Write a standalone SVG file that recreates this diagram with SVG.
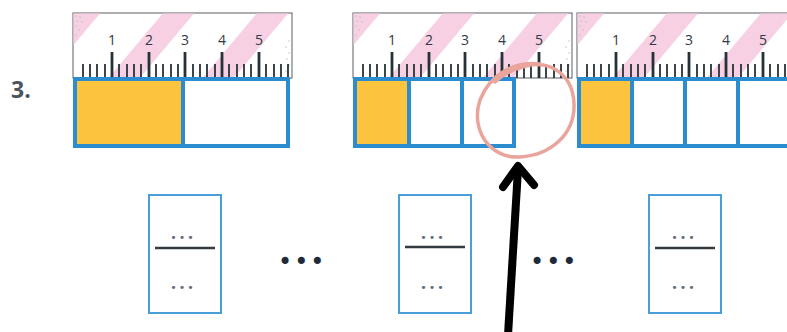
<svg xmlns="http://www.w3.org/2000/svg" width="787" height="332" viewBox="0 0 787 332">
<defs>
  <pattern id="stripes" patternUnits="userSpaceOnUse" width="72" height="10" patternTransform="rotate(40)">
    <rect x="0" y="0" width="21" height="10" fill="#f8d0e3"/>
    <rect x="69" y="0" width="3" height="10" fill="#f8d0e3"/>
  </pattern>
  <g id="ticks">
    <g stroke="#26323a" stroke-width="1.8">
      <path d="M10 51V65M17 51V65M24 51V65M32 51V65M46 51V65M54 51V65M61 51V65M68 51V65M83 51V65M90 51V65M98 51V65M105 51V65M120 51V65M127 51V65M134 51V65M142 51V65M156 51V65M164 51V65M171 51V65M178 51V65M193 51V65M201 51V65M208 51V65M215 51V65M230 51V65M237 51V65"/>
    </g>
    <g stroke="#26323a" stroke-width="2.8">
      <path d="M39 39V65M76 39V65M112 39V65M149 39V65M186 39V65"/>
    </g>
    <g class="num">
      <text x="39" y="32">1</text>
      <text x="76" y="32">2</text>
      <text x="112" y="32">3</text>
      <text x="149" y="32">4</text>
      <text x="186" y="32">5</text>
    </g>
  </g>
  <g id="speck" fill="#a9c2c4">
    <circle cx="3" cy="3" r="0.7"/><circle cx="7" cy="4" r="0.7"/><circle cx="4" cy="8" r="0.7"/><circle cx="9" cy="9" r="0.7"/><circle cx="3" cy="13" r="0.7"/><circle cx="6" cy="17" r="0.7"/><circle cx="3" cy="22" r="0.7"/>
  </g>
  <g id="speckR" fill="#a9c2c4">
    <circle cx="-3" cy="28" r="0.7"/><circle cx="-6" cy="34" r="0.7"/><circle cx="-3" cy="40" r="0.7"/><circle cx="-5" cy="46" r="0.7"/><circle cx="-3" cy="52" r="0.7"/><circle cx="-6" cy="58" r="0.7"/>
  </g>
</defs>
<style>
  .num { font-family: "Open Sans", "Liberation Sans", sans-serif; font-size: 14px; fill: #2f3b45; text-anchor: middle; }
  .rframe { fill: #ffffff; stroke: #5a5f63; stroke-width: 1; }
  .bar { fill: none; stroke: #2b8dd0; stroke-width: 4; }
  .yellow { fill: #fcc43e; }
  .fbox { fill: #ffffff; stroke: #4a9fd8; stroke-width: 2; }
  .fline { stroke: #333a40; stroke-width: 2.6; }
  .sdots { font-family: "DejaVu Sans", sans-serif; font-size: 11px; fill: #5f6d7a; text-anchor: middle; letter-spacing: 2px; }
  .bdots { font-family: "DejaVu Sans", sans-serif; font-size: 24px; fill: #1f2b3a; letter-spacing: 2px; }
</style>

<text x="11" y="98" font-family="Open Sans, Liberation Sans, sans-serif" font-size="23" font-weight="bold" fill="#4b535b">3.</text>

<g id="ruler1" transform="translate(73,13)">
  <rect class="rframe" x="0" y="0" width="219" height="65"/>
  <rect x="0.5" y="0.5" width="218" height="64" fill="url(#stripes)"/>
  <use href="#speck"/>
  <use href="#speckR" x="219"/>
  <svg x="0" y="0" width="219" height="65" overflow="hidden"><use href="#ticks"/></svg>
</g>
<g id="bar1">
  <rect class="yellow" x="75" y="79" width="108" height="67"/>
  <rect class="bar" x="75" y="79" width="213" height="67"/>
  <line class="bar" x1="183" y1="79" x2="183" y2="146"/>
</g>

<g id="ruler2" transform="translate(353,13)">
  <rect class="rframe" x="0" y="0" width="219" height="65"/>
  <rect x="0.5" y="0.5" width="218" height="64" fill="url(#stripes)"/>
  <use href="#speck"/>
  <use href="#speckR" x="219"/>
  <svg x="0" y="0" width="219" height="65" overflow="hidden"><use href="#ticks"/></svg>
</g>
<g id="bar2">
  <rect class="yellow" x="355" y="79" width="54" height="67"/>
  <rect class="bar" x="355" y="79" width="159" height="67"/>
  <line class="bar" x1="409" y1="79" x2="409" y2="146"/>
  <line class="bar" x1="462" y1="79" x2="462" y2="146"/>
</g>

<g id="ruler3" transform="translate(577,13)">
  <rect class="rframe" x="0" y="0" width="240" height="65"/>
  <rect x="0.5" y="0.5" width="239" height="64" fill="url(#stripes)"/>
  <use href="#speck"/>
  <svg x="0" y="0" width="240" height="65" overflow="hidden"><use href="#ticks"/></svg>
</g>
<g id="bar3">
  <rect class="yellow" x="579" y="79" width="53" height="67"/>
  <rect class="bar" x="579" y="79" width="240" height="67"/>
  <line class="bar" x1="632" y1="79" x2="632" y2="146"/>
  <line class="bar" x1="685" y1="79" x2="685" y2="146"/>
  <line class="bar" x1="738" y1="79" x2="738" y2="146"/>
</g>

<g id="highlight">
  <path d="M540 64 C515 61 490 74 480 100 C470 130 490 159 520 157 C551 155 575 134 574 104 C573 75 551 60 526 66 C513 69 502 75 495 82" fill="none" stroke="#e9a59c" stroke-width="3.5" stroke-linecap="round"/>
</g>

<g id="frac1">
  <rect class="fbox" x="149" y="195" width="72" height="118"/>
  <text class="sdots" x="183" y="241">•••</text>
  <line class="fline" x1="155" y1="248" x2="215" y2="248"/>
  <text class="sdots" x="183" y="291">•••</text>
</g>
<g id="dots1"><text class="bdots" x="278" y="270">•••</text></g>

<g id="frac2">
  <rect class="fbox" x="399" y="195" width="72" height="118"/>
  <text class="sdots" x="433" y="241">•••</text>
  <line class="fline" x1="405" y1="247" x2="465" y2="247"/>
  <text class="sdots" x="433" y="291">•••</text>
</g>
<g id="dots2"><text class="bdots" x="530" y="270">•••</text></g>

<g id="frac3">
  <rect class="fbox" x="649" y="195" width="72" height="118"/>
  <text class="sdots" x="684" y="241">•••</text>
  <line class="fline" x1="655" y1="248" x2="715" y2="248"/>
  <text class="sdots" x="684" y="291">•••</text>
</g>

<g id="connectors">
  <line x1="508" y1="335" x2="518" y2="169" stroke="#000" stroke-width="8"/>
  <polyline points="503,187 518,166 534,185" fill="none" stroke="#000" stroke-width="8" stroke-linecap="round" stroke-linejoin="round"/>
</g>
</svg>
